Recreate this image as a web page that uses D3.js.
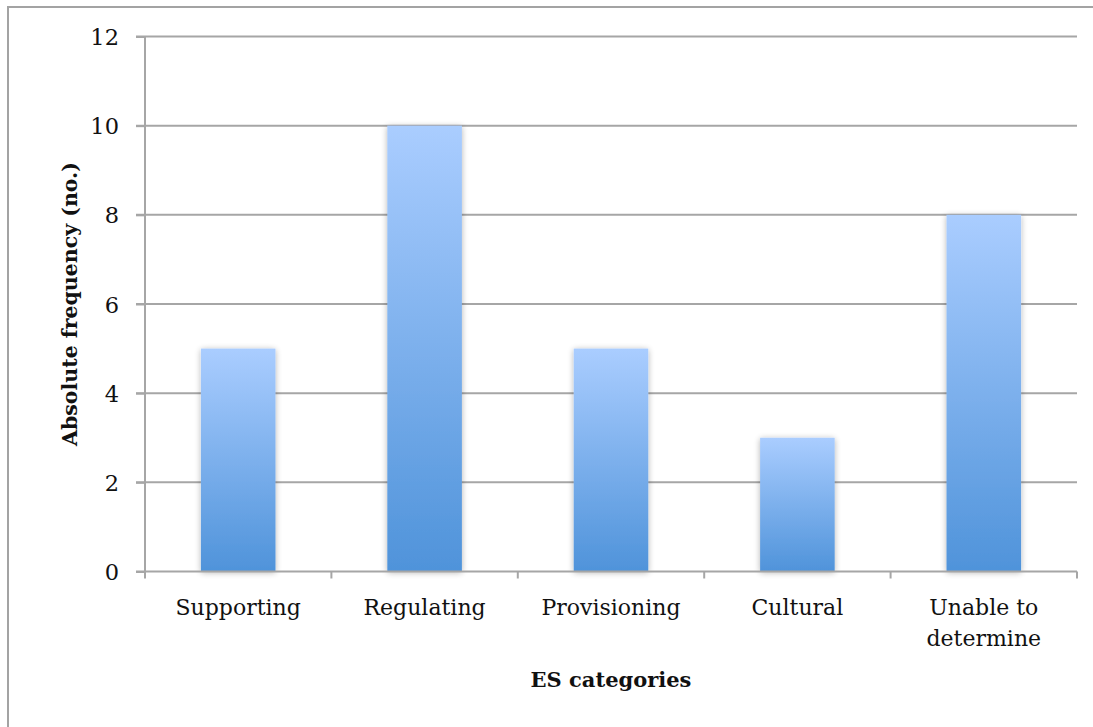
<!DOCTYPE html>
<html><head><meta charset="utf-8">
<script src="https://cdn.jsdelivr.net/npm/d3@7"></script>
<style>
html,body{margin:0;padding:0;background:#fff;}
svg{display:block;}
</style></head>
<body>
<script>
const categories = [["Supporting"], ["Regulating"], ["Provisioning"], ["Cultural"], ["Unable to", "determine"]];
const values = [5, 10, 5, 3, 8];
const yTicks = [0, 2, 4, 6, 8, 10, 12];
const xTitle = "ES categories";
const yTitle = "Absolute frequency (no.)";

const W = 1093, H = 727;
const m = {left: 145, right: 1077, top: 36.5, bottom: 571.5};
const font = "'DejaVu Serif', serif";

const svg = d3.select("body").append("svg").attr("width", W).attr("height", H);
const defs = svg.append("defs");
const grad = defs.append("linearGradient").attr("id", "barGrad")
  .attr("x1", 0).attr("y1", 0).attr("x2", 0).attr("y2", 1);
grad.append("stop").attr("offset", "0%").attr("stop-color", "#aacdff");
grad.append("stop").attr("offset", "100%").attr("stop-color", "#4f93da");
const f = defs.append("filter").attr("id", "shadow").attr("x", "-20%").attr("y", "-10%").attr("width", "140%").attr("height", "120%");
f.append("feGaussianBlur").attr("in", "SourceAlpha").attr("stdDeviation", 3).attr("result", "b");
f.append("feOffset").attr("in", "b").attr("dx", 0).attr("dy", 1).attr("result", "o");
f.append("feComponentTransfer").attr("in", "o").attr("result", "s")
  .append("feFuncA").attr("type", "linear").attr("slope", 0.3);
const fm = f.append("feMerge");
fm.append("feMergeNode").attr("in", "s");
fm.append("feMergeNode").attr("in", "SourceGraphic");

// outer frame
svg.append("rect").attr("x", 8).attr("y", 7).attr("width", 1200).attr("height", 800)
  .attr("fill", "none").attr("stroke", "#a3a3a3").attr("stroke-width", 2);

const x = d3.scaleBand().domain(d3.range(categories.length)).range([m.left, m.right]).paddingInner(0.6).paddingOuter(0.3);
const xb = d3.scaleBand().domain(d3.range(categories.length)).range([m.left, m.right]);
const y = d3.scaleLinear().domain([0, 12]).range([m.bottom, m.top]);

// gridlines
svg.append("g").selectAll("line").data(yTicks.filter(d => d > 0)).join("line")
  .attr("x1", m.left - 9).attr("x2", m.right).attr("y1", d => y(d)).attr("y2", d => y(d))
  .attr("stroke", "#a6a6a6").attr("stroke-width", 2);

// bars
svg.append("g").selectAll("rect").data(values).join("rect")
  .attr("x", (d, i) => x(i)).attr("width", x.bandwidth())
  .attr("y", d => y(d)).attr("height", d => y(0) - y(d))
  .attr("fill", "url(#barGrad)").attr("filter", "url(#shadow)");

// y axis
const ya = svg.append("g").attr("transform", `translate(${m.left},0)`)
  .call(d3.axisLeft(y).tickValues(yTicks).tickSize(9).tickPadding(17));
ya.select(".domain").attr("stroke", "#a6a6a6").attr("stroke-width", 2).attr("d", `M0,${m.top}V${m.bottom}`);
ya.selectAll(".tick line").attr("stroke", "#a6a6a6").attr("stroke-width", 2);
ya.selectAll(".tick text").attr("font-family", font).attr("font-size", 22.5).attr("fill", "#111").attr("dy", "0.36em");

// x axis
const xa = svg.append("g").attr("transform", `translate(0,${m.bottom})`)
  .call(d3.axisBottom(xb).tickValues([]).tickSizeOuter(0));
xa.select(".domain").attr("stroke", "#a6a6a6").attr("stroke-width", 2).attr("d", `M${m.left - 9},0H${m.right}`);
const bounds = d3.range(categories.length + 1).map(i => i < categories.length ? xb(i) : m.right);
xa.selectAll("line.bt").data(bounds).join("line").attr("class", "bt")
  .attr("x1", d => d).attr("x2", d => d).attr("y1", 0).attr("y2", 7)
  .attr("stroke", "#a6a6a6").attr("stroke-width", 2);
const lbl = xa.selectAll("text.cl").data(categories).join("text").attr("class", "cl")
  .attr("x", (d, i) => xb(i) + xb.bandwidth() / 2).attr("y", 43)
  .attr("text-anchor", "middle").attr("font-family", font).attr("font-size", 22).attr("fill", "#111");
lbl.selectAll("tspan").data(d => d).join("tspan")
  .attr("x", function() { return this.parentNode.getAttribute("x"); })
  .attr("dy", (d, i) => i === 0 ? 0 : 31).text(d => d);

// titles
svg.append("text").attr("x", (m.left + m.right) / 2).attr("y", 687).attr("text-anchor", "middle")
  .attr("font-family", font).attr("font-weight", "bold").attr("font-size", 21).attr("fill", "#111").text(xTitle);
svg.append("text").attr("transform", `translate(77,${(m.top + m.bottom) / 2}) rotate(-90)`).attr("text-anchor", "middle")
  .attr("font-family", font).attr("font-weight", "bold").attr("font-size", 20.5).attr("fill", "#111").text(yTitle);
</script>
</body></html>
